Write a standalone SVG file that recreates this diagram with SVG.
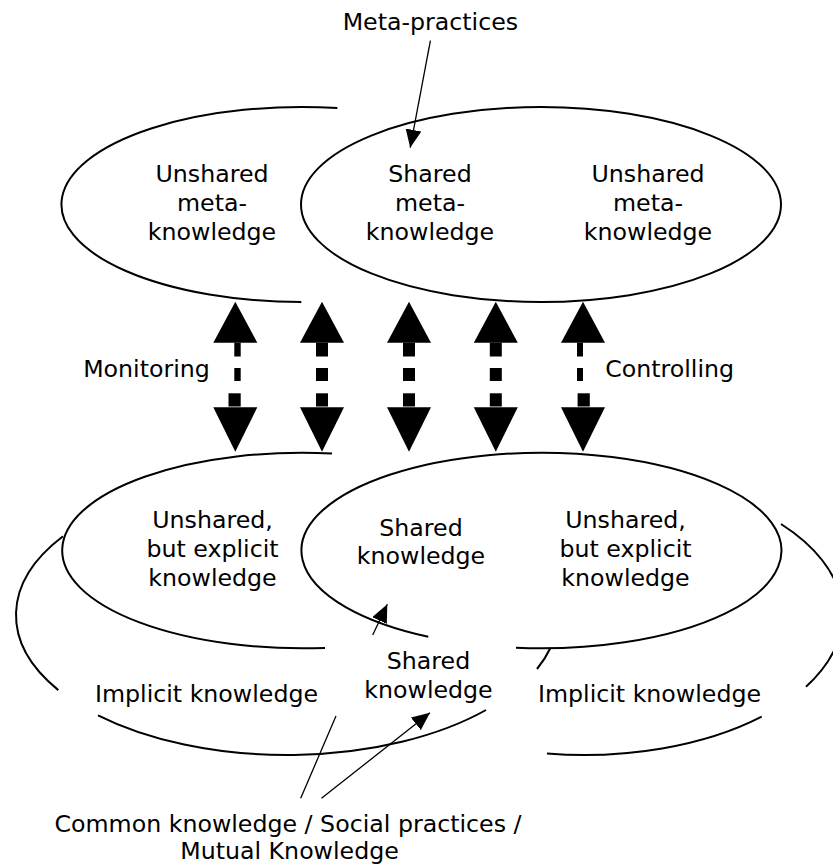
<svg xmlns="http://www.w3.org/2000/svg" width="833" height="867" viewBox="0 0 833 867">
<style>
.t{font-family:"DejaVu Sans",Verdana,sans-serif;font-size:23.7px;fill:#000;text-anchor:middle}
.e{fill:none;stroke:#000;stroke-width:2}
.c{fill:none;stroke:#000;stroke-width:1.3}
.h{fill:#000;stroke:none}
</style>
<defs>
<marker id="ah" viewBox="0 0 18 16" refX="18" refY="8" markerWidth="18" markerHeight="16" markerUnits="userSpaceOnUse" orient="auto">
<path d="M0,0 L18,8 L0,16 z" fill="#000"/>
</marker>
<polygon id="up" points="0,301.7 -22,342.7 22,342.7"/>
<polygon id="down" points="-22,407.3 22,407.3 0,451.7"/>
</defs>
<rect width="833" height="867" fill="#fff"/>

<g id="top-left">
<path class="e" d="M337.4,108.1 A240,97.5 0 1 0 301.3,302"/>
<text class="t" x="212" y="181.7">Unshared</text>
<text class="t" x="212" y="210.7">meta-</text>
<text class="t" x="212" y="239.5">knowledge</text>
</g>
<g id="top-right">
<ellipse class="e" cx="541" cy="204.5" rx="240" ry="97.5"/>
<text class="t" x="430" y="181.7">Shared</text>
<text class="t" x="430" y="210.7">meta-</text>
<text class="t" x="430" y="239.5">knowledge</text>
<text class="t" x="648" y="181.7">Unshared</text>
<text class="t" x="648" y="210.7">meta-</text>
<text class="t" x="648" y="239.5">knowledge</text>
</g>
<g id="meta-practices">
<text class="t" x="430.4" y="30">Meta-practices</text>
</g>
<g id="monitoring"><text class="t" x="146.5" y="376.7">Monitoring</text></g>
<g id="controlling"><text class="t" x="669.6" y="376.7">Controlling</text></g>

<g id="outer-left">
<path class="e" d="M63,536.2 A271,140 0 0 0 58.3,690.1"/>
<path class="e" d="M98,715.3 A271,140 0 0 0 486,710"/>
<path class="e" d="M550.4,648 A271,140 0 0 1 537,669"/>
<text class="t" x="206.5" y="701.7">Implicit knowledge</text>
</g>
<g id="outer-right">
<path class="e" d="M781,524 A258,140 0 0 1 806,686.7"/>
<path class="e" d="M547,753.6 A258,140 0 0 0 761.7,716.7"/>
<text class="t" x="649.5" y="701.7">Implicit knowledge</text>
</g>
<g id="bottom-left">
<path class="e" d="M332,453.5 A240,97.8 0 1 0 325,647.9"/>
<text class="t" x="212.5" y="528.3">Unshared,</text>
<text class="t" x="212.5" y="557.3">but explicit</text>
<text class="t" x="212.5" y="585.9">knowledge</text>
</g>
<g id="bottom-right">
<path class="e" d="M516,647.8 A240,97.8 0 1 0 428.3,636.8"/>
<text class="t" x="421" y="535.7">Shared</text>
<text class="t" x="421" y="564.3">knowledge</text>
<text class="t" x="625.5" y="528.3">Unshared,</text>
<text class="t" x="625.5" y="557.3">but explicit</text>
<text class="t" x="625.5" y="585.9">knowledge</text>
</g>
<g id="shared-core">
<text class="t" x="428.5" y="669">Shared</text>
<text class="t" x="428.5" y="697.5">knowledge</text>
</g>
<g id="caption">
<text class="t" x="288" y="831.7">Common knowledge / Social practices /</text>
<text class="t" x="289.5" y="859.3">Mutual Knowledge</text>
</g>

<g id="connectors">
<path class="c" d="M430.4,40.7 L410.2,147.7" marker-end="url(#ah)"/>
<path class="c" d="M300.7,798.3 L336,716 M372.7,635 L387.3,604.3" marker-end="url(#ah)"/>
<path class="c" d="M321.5,798.3 L430,712.7" marker-end="url(#ah)"/>
<g class="h">
<use href="#up" x="235.3"/><use href="#down" x="235.3"/>
<rect x="234.3" y="342.7" width="6.4" height="13.8"/><rect x="234.3" y="368" width="6.4" height="13"/><rect x="228.5" y="393.3" width="12.2" height="13.2"/>
<use href="#up" x="322"/><use href="#down" x="322"/>
<rect x="316" y="342.7" width="12" height="13.8"/><rect x="316" y="368" width="12" height="13"/><rect x="316" y="393.3" width="12" height="13.2"/>
<use href="#up" x="409"/><use href="#down" x="409"/>
<rect x="403" y="342.7" width="12" height="13.8"/><rect x="403" y="368" width="12" height="13"/><rect x="403" y="393.3" width="12" height="13.2"/>
<use href="#up" x="495.8"/><use href="#down" x="495.8"/>
<rect x="489.8" y="342.7" width="12" height="13.8"/><rect x="489.8" y="368" width="12" height="13"/><rect x="489.8" y="393.3" width="12" height="13.2"/>
<use href="#up" x="583"/><use href="#down" x="583"/>
<rect x="577" y="342.7" width="6" height="13.8"/><rect x="577" y="368" width="6" height="13"/><rect x="577.6" y="393.3" width="12.2" height="13.2"/>
</g>
</g>
</svg>
